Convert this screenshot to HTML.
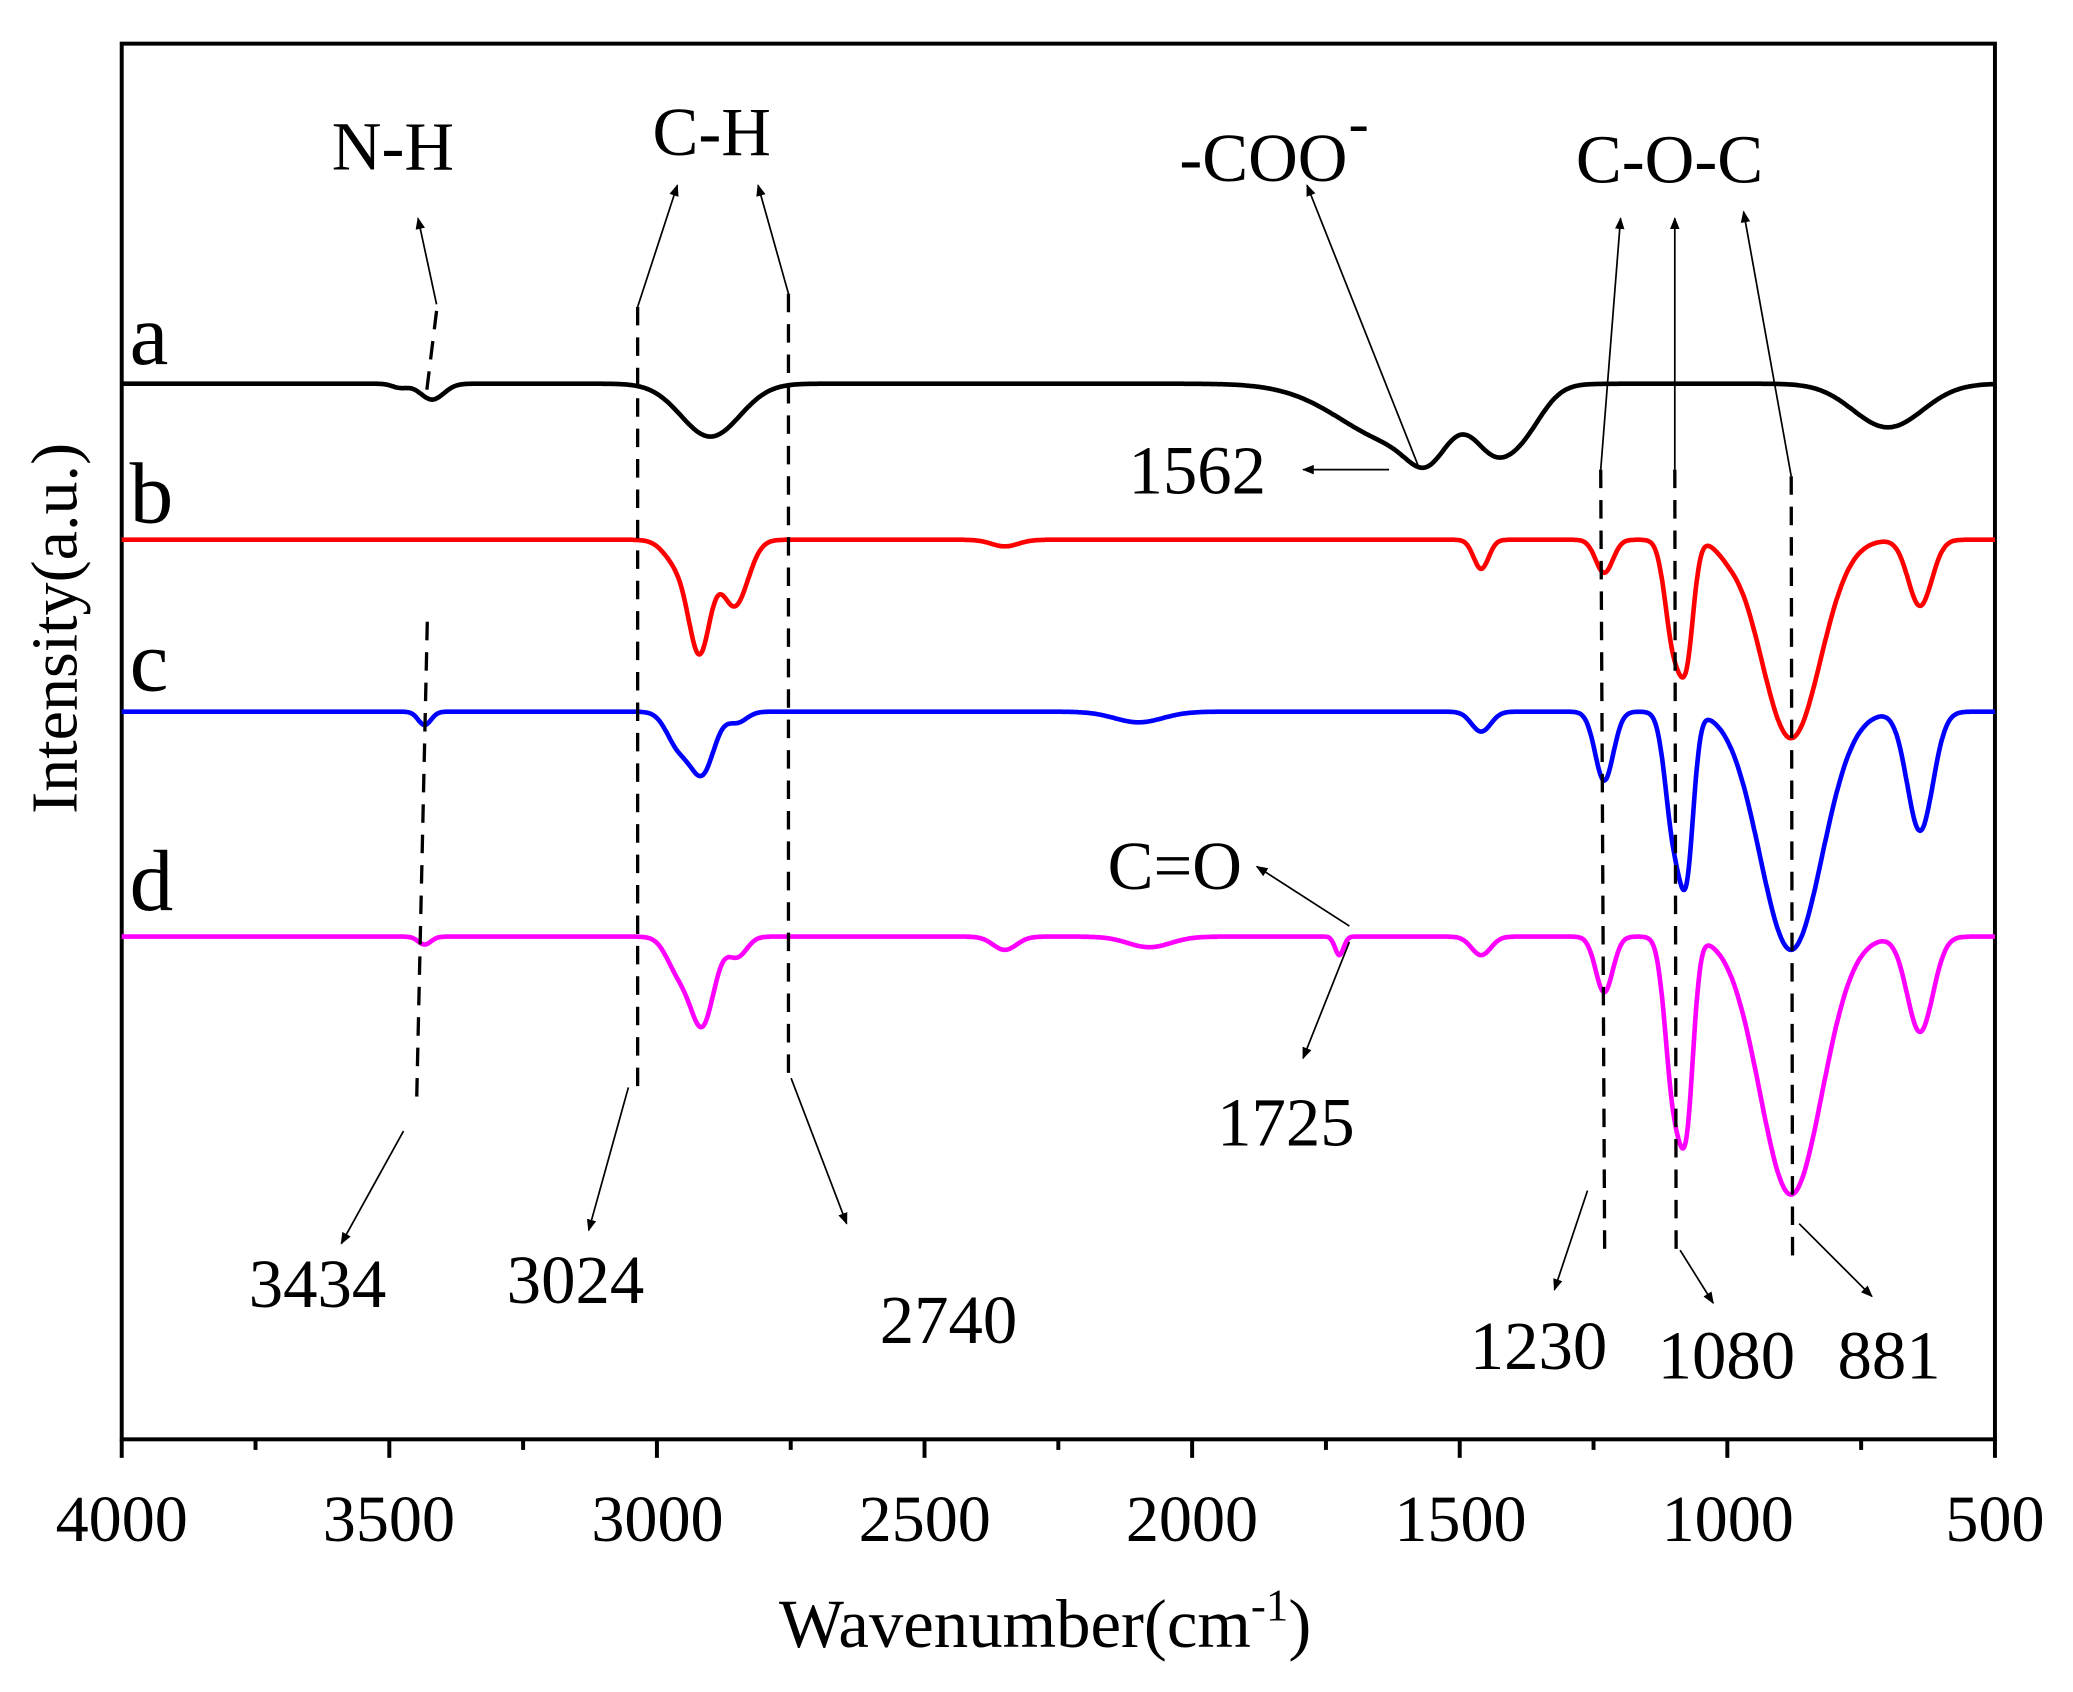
<!DOCTYPE html>
<html><head><meta charset="utf-8"><style>html,body{margin:0;padding:0;background:#fff}svg{display:block}text{font-family:"Liberation Serif",serif;fill:#000}</style></head>
<body>
<svg id="s" width="2073" height="1692" viewBox="0 0 1567 1279" xmlns="http://www.w3.org/2000/svg">
<defs><marker id="ah" viewBox="0 0 10 10" refX="9" refY="5" markerWidth="9" markerHeight="12" markerUnits="userSpaceOnUse" orient="auto"><path d="M0,1 L10,5 L0,9 z" fill="#000"/></marker></defs>
<rect x="92" y="33" width="1416" height="1055" fill="none" stroke="#000" stroke-width="3"/>
<g id="ticks" stroke="#000" stroke-width="3"></g>
<g font-size="50" text-anchor="middle">
<text x="92" y="1165">4000</text><text x="294" y="1165">3500</text><text x="497" y="1165">3000</text><text x="699" y="1165">2500</text><text x="901" y="1165">2000</text><text x="1104" y="1165">1500</text><text x="1306" y="1165">1000</text><text x="1508" y="1165">500</text>
</g>
<text x="790" y="1245" font-size="52" text-anchor="middle">Wavenumber(cm<tspan dy="-20" font-size="34">-1</tspan><tspan dy="20">)</tspan></text>
<text transform="translate(58,475) rotate(-90)" font-size="50" text-anchor="middle">Intensity(a.u.)</text>
<g id="curves" fill="none" stroke-width="3.5" stroke-linejoin="round"></g>
<g font-size="66"><text x="98" y="275">a</text><text x="98" y="395">b</text><text x="98" y="522">c</text><text x="98" y="688">d</text></g>
<g font-size="52" text-anchor="middle">
<text x="297" y="128">N-H</text><text x="538" y="117">C-H</text><text x="955" y="137">-COO</text><text x="1027" y="108" font-size="46">-</text><text x="1262" y="138">C-O-C</text>
<text x="888" y="672">C=O</text>
<text x="905" y="373">1562</text><text x="972" y="866">1725</text>
<text x="240" y="988">3434</text><text x="435" y="985">3024</text><text x="717" y="1015">2740</text>
<text x="1163" y="1035">1230</text><text x="1305" y="1042">1080</text><text x="1428" y="1042">881</text>
</g>
<g stroke="#000" stroke-width="1.3" fill="none" marker-end="url(#ah)">
<path d="M330,230 L316,165"/>
<path d="M482,232 L512,140"/><path d="M596,222 L573,140"/>
<path d="M1072,352 L988,140"/>
<path d="M1210,355 L1225,165"/><path d="M1266,355 L1266,165"/><path d="M1354,360 L1318,160"/>
<path d="M1020,700 L950,655"/><path d="M1020,712 L985,800"/>
<path d="M1050,355 L985,355"/>
<path d="M305,855 L258,940"/><path d="M475,822 L445,930"/><path d="M598,815 L640,925"/>
<path d="M1200,900 L1175,975"/><path d="M1270,945 L1295,985"/><path d="M1360,925 L1415,980"/>
</g>
<g stroke="#000" stroke-width="2.5" fill="none" stroke-dasharray="14,9">
<path d="M330,235 L322,300"/><path d="M323,470 L315,830"/>
<path d="M482,232 L482,825"/><path d="M596,222 L596,812"/>
<path d="M1210,355 L1213,950"/><path d="M1266,355 L1267,950"/><path d="M1354,360 L1355,950"/>
</g>
</svg>
<script>
var X=function(w){return 92+(4000-w)/3500*1416;};
var tg=document.getElementById('ticks'),h='';
for(var w=4000;w>=500;w-=250){var x=X(w),L=(w%500==0)?14:8;h+='<line x1="'+x+'" y1="1088" x2="'+x+'" y2="'+(1088+L)+'"/>';}
tg.innerHTML=h;
var C=[
{c:'#000',b:290,d:[[3420,12,22],[3480,3,15],[2900,40,55],[1610,45,110],[1562,22,35],[1440,28,35],[1385,32,40],[700,33,65]]},
{c:'#f00',b:408,d:[[2920,80,20],[2855,50,25],[2960,18,25],[2350,5,25],[1460,22,14],[1230,25,16],[1100,78,16],[1075,72,13],[881,150,55],[640,50,22],[1000,5,20]]},
{c:'#00f',b:538,d:[[3434,10,12],[2960,25,22],[2915,45,22],[2850,8,18],[2100,8,45],[1460,15,18],[1230,52,17],[1100,90,16],[1075,100,13],[881,180,58],[640,90,24]]},
{c:'#f0f',b:708,d:[[3434,6,12],[2960,25,22],[2915,65,22],[2850,15,18],[2350,10,22],[2080,8,40],[1725,14,8],[1460,14,18],[1230,42,16],[1100,118,16],[1075,112,13],[881,195,58],[640,72,24]]}];
var g='';
C.forEach(function(s){var p='';for(var w=4000;w>=500;w-=2){var y=s.b;s.d.forEach(function(d){y+=d[1]*Math.exp(-Math.pow((w-d[0])/d[2],2)/2);});p+=(p?'L':'M')+X(w).toFixed(1)+','+y.toFixed(1);}
g+='<path d="'+p+'" stroke="'+s.c+'"/>';});
document.getElementById('curves').innerHTML=g;
</script>
</body></html>
